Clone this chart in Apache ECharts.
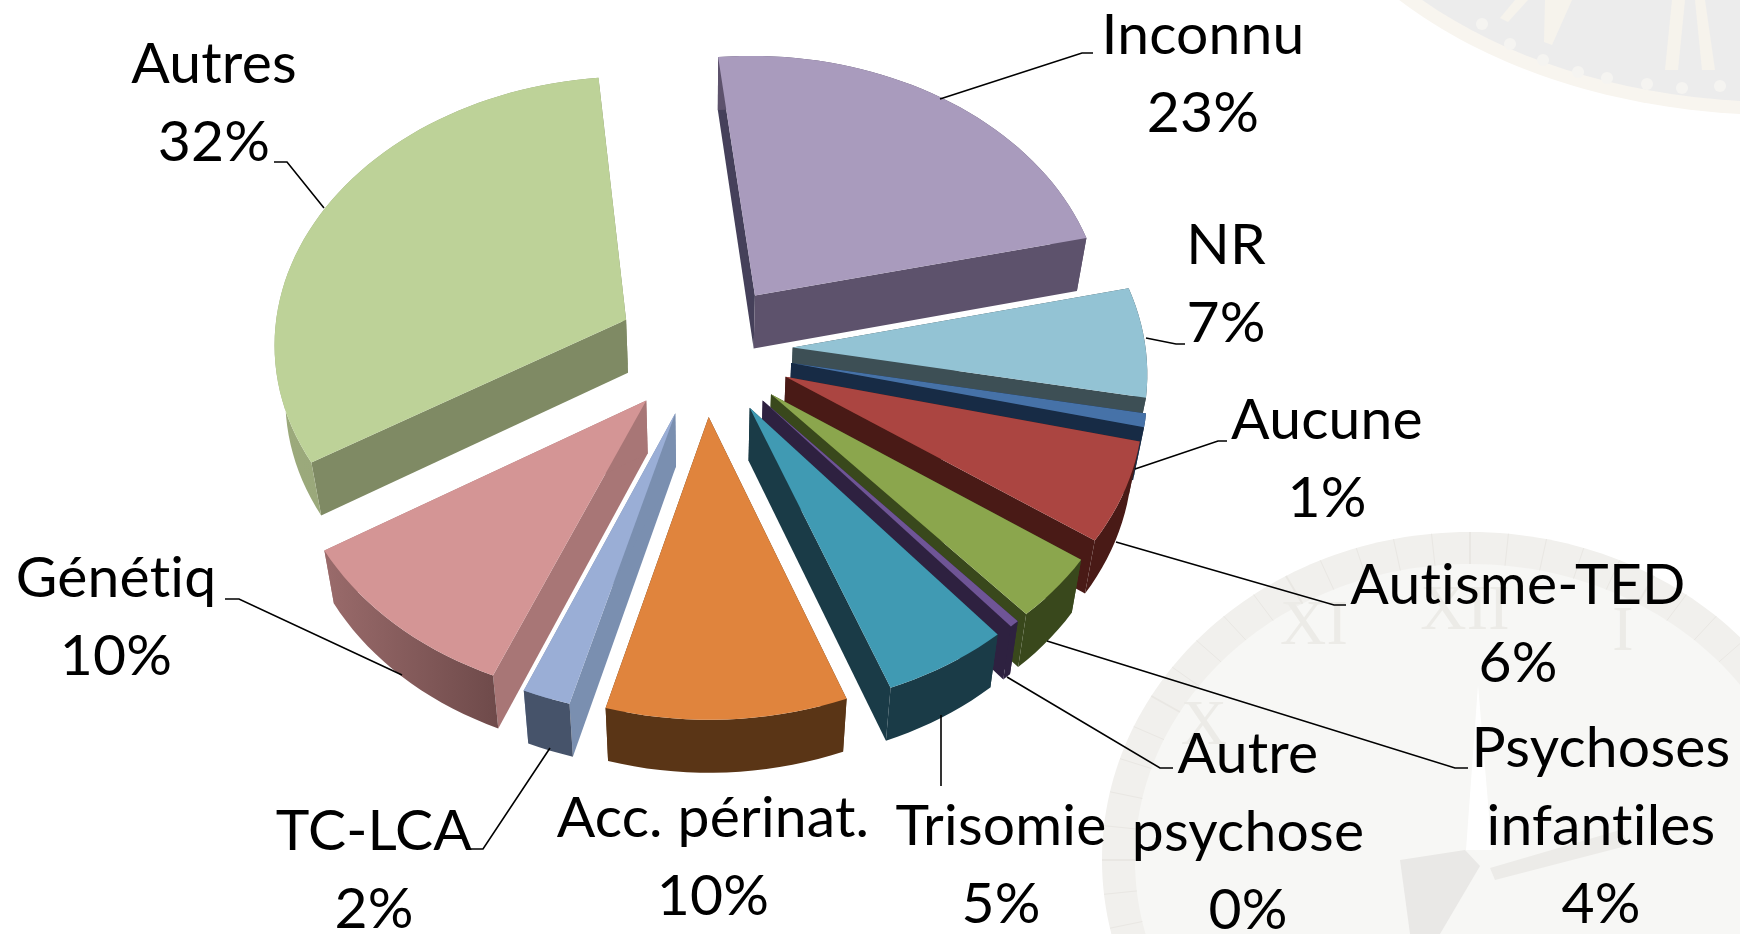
<!DOCTYPE html>
<html><head><meta charset="utf-8">
<style>html,body{margin:0;padding:0;background:#fff}#c{width:1740px;height:934px}</style>
<script src="https://cdn.jsdelivr.net/npm/echarts@6/dist/echarts.min.js"></script>
</head><body><div id="c"></div>
<script>
const categories = ['Inconnu','NR','Aucune','Autisme-TED','Psychoses\ninfantiles','Autre\npsychose','Trisomie','Acc. périnat.','TC-LCA','Génétiq','Autres'];
const percentages = [23,6.6,0.8,6,3.8,0.4,5.3,10,2,10,32.1];
const topColors = ['#a99bbd','#93c3d4','#4672a8','#ab4541','#8ba64d','#6f5596','#409ab3','#e0843d','#9aaed6','#d49595','#bdd298'];
const sideColors = ['#5d526c','#3d4f55','#172b45','#491a16','#39481c','#2e2140','#1a3b47','#5a3516','#7a8fb0','#a87676','#7f8a64'];
const startSideColors = ['#45405a','#3d4f55','#172b45','#491a16','#39481c','#2e2140','#1a3b47','#5a3516','#7a8fb0','#a87676','#7f8a64'];
const rimFrom = ['#5d526c','#3d4f55','#172b45','#491a16','#39481c','#2e2140','#1a3b47','#5a3516','#46536a','#9a6b6b','#9caa7c'];
const rimTo = ['#5d526c','#3d4f55','#172b45','#491a16','#39481c','#2e2140','#1a3b47','#5a3516','#46536a','#6e4a4a','#8f9e72'];
const labelCentres = [[1203,75],[1226,285],[1327,460],[1518,625],[1601,827],[1248,833],[1001,866],[713,858],[374,871],[116,618],[214,104]];
const leaderPaths = [
 [[940,99],[1082,53],[1093,53]],[[1146,338],[1176,344],[1185,344]],[[1135,469],[1218,441],[1227,441]],
 [[1116,542],[1334,605],[1346,605]],[[1047,641],[1455,768],[1468,768]],[[1007,677],[1160,768],[1173,768]],
 [[941,715],[941,786]],[],[[550,748],[483,849],[466,849]],[[402,675],[239,599],[225,599]],[[324,208],[287,162],[274,162]]
];

// Lato's "ti" ligature is absent from the reference: non-zero tracking switches ligatures off on canvas.
const nativeGetContext = HTMLCanvasElement.prototype.getContext;
HTMLCanvasElement.prototype.getContext = function(){const c=nativeGetContext.apply(this,arguments); if(c&&'letterSpacing' in c) c.letterSpacing='0.2px'; return c;};

const total = percentages.reduce((a,b)=>a+b,0);
const START = -5.9, EXPLODE = 0.25, CX = 704.5, CY = 349, A = 353, B = 267, P = 0.08, DEPTH = 53, TAPER = 0.975;
const rad = d => d*Math.PI/180;
function proj(X,Y){const w=1+P*Y;return [CX+A*X/w, CY-B*Y/w];}
const starts=[];percentages.reduce((acc,v,i)=>{starts[i]=acc;return acc+v*360/total;},START);

function renderSlice(params, api){
  const i=api.value(0), v=api.value(1);
  const a0=starts[i], a1=a0+v*360/total, m=(a0+a1)/2;
  const ex=EXPLODE*Math.sin(rad(m)), ey=EXPLODE*Math.cos(rad(m));
  const apex=proj(ex,ey);
  const rim=[];const n=Math.max(2,Math.ceil((a1-a0)/2));
  for(let k=0;k<=n;k++){const t=rad(a0+(a1-a0)*k/n);rim.push(proj(ex+Math.sin(t),ey+Math.cos(t)));}
  const dn=p=>[CX+(p[0]-CX)*TAPER,p[1]+DEPTH];
  const first=rim[0], last=rim[rim.length-1];
  const children=[];
  children.push({type:'polygon',shape:{points:[apex,first,dn(first),dn(apex)]},style:{fill:startSideColors[i]}});
  children.push({type:'polygon',shape:{points:[apex,last,dn(last),dn(apex)]},style:{fill:sideColors[i]}});
  children.push({type:'polygon',shape:{points:rim.concat(rim.slice().reverse().map(dn))},
    style:{fill:new echarts.graphic.LinearGradient(0,0,1,0,[{offset:0,color:rimFrom[i]},{offset:1,color:rimTo[i]}])}});
  children.push({type:'polygon',shape:{points:[apex].concat(rim)},style:{fill:topColors[i]}});
  return {type:'group',children};
}
function renderLabel(params, api){
  const i=api.value(0), v=api.value(1);
  const c=labelCentres[i], path=leaderPaths[i];
  const children=[];
  if(path.length) children.push({type:'polyline',shape:{points:path},style:{stroke:'#000',lineWidth:1.6,fill:null}});
  children.push({type:'text',style:{text:categories[i]+'\n'+Math.round(v)+'%',x:c[0],y:c[1],align:'center',verticalAlign:'middle',
     fontFamily:'Lato',fontSize:57,lineHeight:78,fill:'#000'}});
  return {type:'group',children};
}
const rows=percentages.map((v,i)=>[i,v]);

// faint clock backdrop
const bg=[];
bg.push({type:'ellipse',shape:{cx:1780,cy:-220,rx:505,ry:335},style:{fill:'#f8f5ef'},z:-5});
bg.push({type:'ellipse',shape:{cx:1780,cy:-220,rx:490,ry:322},style:{fill:'#ececec'},z:-5});
[[1482,24],[1510,44],[1543,60],[1578,72],[1607,78],[1647,84],[1682,88],[1720,86]].forEach(p=>bg.push({type:'circle',shape:{cx:p[0],cy:p[1],r:6},style:{fill:'#f5f4f1'},z:-4}));
[[[1515,0],[1528,0],[1508,22],[1500,18]],[[1545,0],[1572,0],[1552,45],[1544,42]],[[1672,0],[1685,0],[1678,70],[1665,70]],[[1695,0],[1705,0],[1715,70],[1702,70]]].forEach(p=>bg.push({type:'polygon',shape:{points:p},style:{fill:'#f6f3ec'},z:-4}));
bg.push({type:'ellipse',shape:{cx:1470,cy:860,rx:368,ry:328},style:{fill:'#f1f0ed'},z:-5});
bg.push({type:'ellipse',shape:{cx:1470,cy:860,rx:335,ry:296},style:{fill:'#f7f7f5'},z:-5});
for(let k=0;k<60;k++){const t=rad(k*6);bg.push({type:'line',shape:{x1:1470+335*Math.sin(t),y1:860-296*Math.cos(t),x2:1470+368*Math.sin(t),y2:860-328*Math.cos(t)},style:{stroke:'#e9e7e3',lineWidth:k%5?1:2},z:-4});}
[['XI',1314,627],['XII',1465,612],['I',1623,633],['X',1204,727]].forEach(a=>bg.push({type:'text',style:{text:a[0],x:a[1],y:a[2],fontFamily:'Liberation Serif',fontSize:64,fill:'#ecebe7',align:'center',verticalAlign:'middle'},z:-4}));
bg.push({type:'polygon',shape:{points:[[1478,685],[1492,850],[1466,850]]},style:{fill:'#ffffff'},z:-3});
bg.push({type:'polygon',shape:{points:[[1400,860],[1465,850],[1480,866],[1440,934],[1410,934]]},style:{fill:'#e9e8e6'},z:-3});
bg.push({type:'polygon',shape:{points:[[1490,868],[1620,830],[1630,845],[1495,880]]},style:{fill:'#ecebe8'},z:-3});

echarts.init(document.getElementById('c')).setOption({
  animation:false,backgroundColor:'#fff',graphic:{elements:bg},
  series:[
    {type:'custom',coordinateSystem:'none',renderItem:renderSlice,data:rows,z:3,silent:true},
    {type:'custom',coordinateSystem:'none',renderItem:renderLabel,data:rows,z:4,silent:true}
  ]
});
</script></body></html>
